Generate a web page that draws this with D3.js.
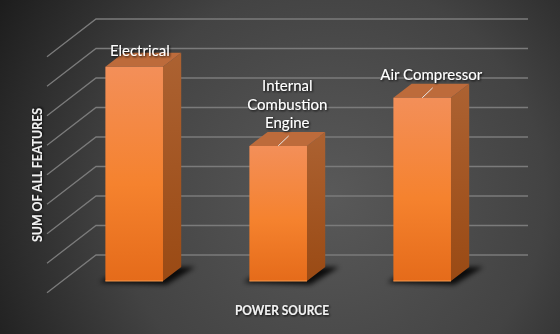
<!DOCTYPE html>
<html><head><meta charset="utf-8">
<script src="https://cdn.jsdelivr.net/npm/d3@7/dist/d3.min.js"></script>
<style>html,body{margin:0;padding:0;background:#2a2a2a;overflow:hidden}</style>
</head><body>
<svg id="chart" width="560" height="334"></svg>
<script>
const categories = ["Electrical", "Internal Combustion Engine", "Air Compressor"];
const labelLines = [["Electrical"], ["Internal", "Combustion", "Engine"], ["Air Compressor"]];
const values = [7.26, 4.58, 6.21];
const gridTicks = [0, 1, 2, 3, 4, 5, 6, 7, 8];
const xTitle = "POWER SOURCE";
const yTitle = "SUM OF ALL FEATURES";

const W = 560, H = 334;
const svg = d3.select("#chart");
const defs = svg.append("defs");

// background
const bg = defs.append("radialGradient").attr("id", "bg").attr("gradientUnits", "userSpaceOnUse")
  .attr("cx", 330).attr("cy", 195).attr("r", 390);
bg.append("stop").attr("offset", 0).attr("stop-color", "#595959");
bg.append("stop").attr("offset", 0.55).attr("stop-color", "#434343");
bg.append("stop").attr("offset", 1).attr("stop-color", "#1b1b1b");
svg.append("rect").attr("width", W).attr("height", H).attr("fill", "url(#bg)");

const gFront = defs.append("linearGradient").attr("id", "front").attr("x1", 0).attr("y1", 0).attr("x2", 0).attr("y2", 1);
gFront.append("stop").attr("offset", 0).attr("stop-color", "#F38F59");
gFront.append("stop").attr("offset", 0.55).attr("stop-color", "#F5822E");
gFront.append("stop").attr("offset", 1).attr("stop-color", "#E56B1A");
const gSide = defs.append("linearGradient").attr("id", "side").attr("x1", 0).attr("y1", 0).attr("x2", 0).attr("y2", 1);
gSide.append("stop").attr("offset", 0).attr("stop-color", "#AC6232");
gSide.append("stop").attr("offset", 1).attr("stop-color", "#9A4A14");

const blur = defs.append("filter").attr("id", "blur").attr("x", "-30%").attr("y", "-30%").attr("width", "160%").attr("height", "160%");
blur.append("feGaussianBlur").attr("stdDeviation", 2.5);
const ts = defs.append("filter").attr("id", "ts").attr("x", "-10%").attr("y", "-30%").attr("width", "120%").attr("height", "160%");
ts.append("feDropShadow").attr("dx", 1).attr("dy", 1).attr("stdDeviation", 0.8).attr("flood-color", "#000").attr("flood-opacity", 0.9);

// 3D projection: back wall plane, depth offset
const depthDX = -49, depthDY = 37.7;
const x = d3.scaleBand().domain(categories).range([96, 528]).paddingInner(0.6).paddingOuter(0.3);
const y = d3.scaleLinear().domain([0, 8]).range([255, 19]);
const zBack = 0.318, zFront = 0.69;
const P = (px, v, z) => [px + depthDX * z, y(v) + depthDY * z];

// gridlines
const grid = svg.append("g").attr("stroke", "#7b7b7b").attr("stroke-width", 1.3).attr("fill", "none");
grid.selectAll("path").data(gridTicks).join("path")
  .attr("d", t => {
    const a = P(x.range()[1], t, 0), b = P(x.range()[0], t, 0), c = P(x.range()[0], t, 1);
    return d3.line()([a, b, c]);
  });

const data = categories.map((c, i) => ({ c, v: values[i], lines: labelLines[i] }));

// shadows
svg.append("g").selectAll("path").data(data).join("path")
  .attr("filter", "url(#blur)").attr("fill", "#000").attr("opacity", 0.85)
  .attr("d", d => {
    const x0 = x(d.c), x1 = x(d.c) + x.bandwidth() + 8;
    const pts = [P(x0 - 4, 0, zFront + 0.04), P(x1, 0, zFront + 0.1), P(x1 + 6, 0, zBack), P(x0, 0, zBack)];
    return d3.line()(pts) + "Z";
  });

const bars = svg.append("g").selectAll("g").data(data).join("g");
// side
bars.append("path").attr("fill", "url(#side)")
  .attr("d", d => {
    const x1 = x(d.c) + x.bandwidth();
    return d3.line()([P(x1, 0, zFront), P(x1, d.v, zFront), P(x1, d.v, zBack), P(x1, 0, zBack)]) + "Z";
  });
// top
bars.append("path").attr("fill", "#BD6B3B")
  .attr("d", d => {
    const x0 = x(d.c), x1 = x(d.c) + x.bandwidth();
    return d3.line()([P(x0, d.v, zFront), P(x1, d.v, zFront), P(x1, d.v, zBack), P(x0, d.v, zBack)]) + "Z";
  });
// front
bars.append("path").attr("fill", "url(#front)")
  .attr("d", d => {
    const x0 = x(d.c), x1 = x(d.c) + x.bandwidth();
    return d3.line()([P(x0, 0, zFront), P(x1, 0, zFront), P(x1, d.v, zFront), P(x0, d.v, zFront)]) + "Z";
  });
// bottom edge highlight
bars.append("path").attr("stroke", "#F79A4E").attr("stroke-width", 1).attr("fill", "none")
  .attr("d", d => d3.line()([P(x(d.c), 0, zFront), P(x(d.c) + x.bandwidth(), 0, zFront)]));

// leader lines (for labels above the bar)
bars.filter((d, i) => i > 0).append("path").attr("stroke", "#e8e8e8").attr("stroke-width", 1)
  .attr("d", d => {
    const cx = x(d.c) + x.bandwidth() / 2;
    const a = P(cx, d.v, zFront), b = [a[0] + 10.5, a[1] - 10];
    return d3.line()([a, b]);
  });

// labels
const lineH = 18.3;
bars.append("text")
  .attr("font-family", "Lato, 'Open Sans', sans-serif").attr("font-size", 15)
  .attr("fill", "#ffffff").attr("text-anchor", "middle").attr("filter", "url(#ts)")
  .each(function (d, i) {
    const cx = x(d.c) + x.bandwidth() / 2 + depthDX * (zFront + zBack) / 2 - (i === 0 ? 3.5 : 0);
    const top = P(0, d.v, zFront)[1];
    const n = d.lines.length;
    const base = (i === 0 ? top - 10.5 : top - 18) - (n - 1) * lineH;
    d3.select(this).selectAll("tspan").data(d.lines).join("tspan")
      .attr("x", cx).attr("y", (l, k) => base + k * lineH).text(l => l);
  });

// axis titles
svg.append("text").attr("x", 282).attr("y", 315)
  .attr("text-anchor", "middle").attr("font-family", "Lato, sans-serif").attr("font-weight", "bold")
  .attr("font-size", 13.5).attr("fill", "#f2f2f2").attr("filter", "url(#ts)")
  .attr("textLength", 94).attr("lengthAdjust", "spacingAndGlyphs").text(xTitle);
svg.append("text").attr("transform", "translate(42,175) rotate(-90)")
  .attr("text-anchor", "middle").attr("font-family", "Lato, sans-serif").attr("font-weight", "bold")
  .attr("font-size", 13.5).attr("fill", "#f2f2f2").attr("filter", "url(#ts)")
  .attr("textLength", 134).attr("lengthAdjust", "spacingAndGlyphs").text(yTitle);
</script>
</body></html>
